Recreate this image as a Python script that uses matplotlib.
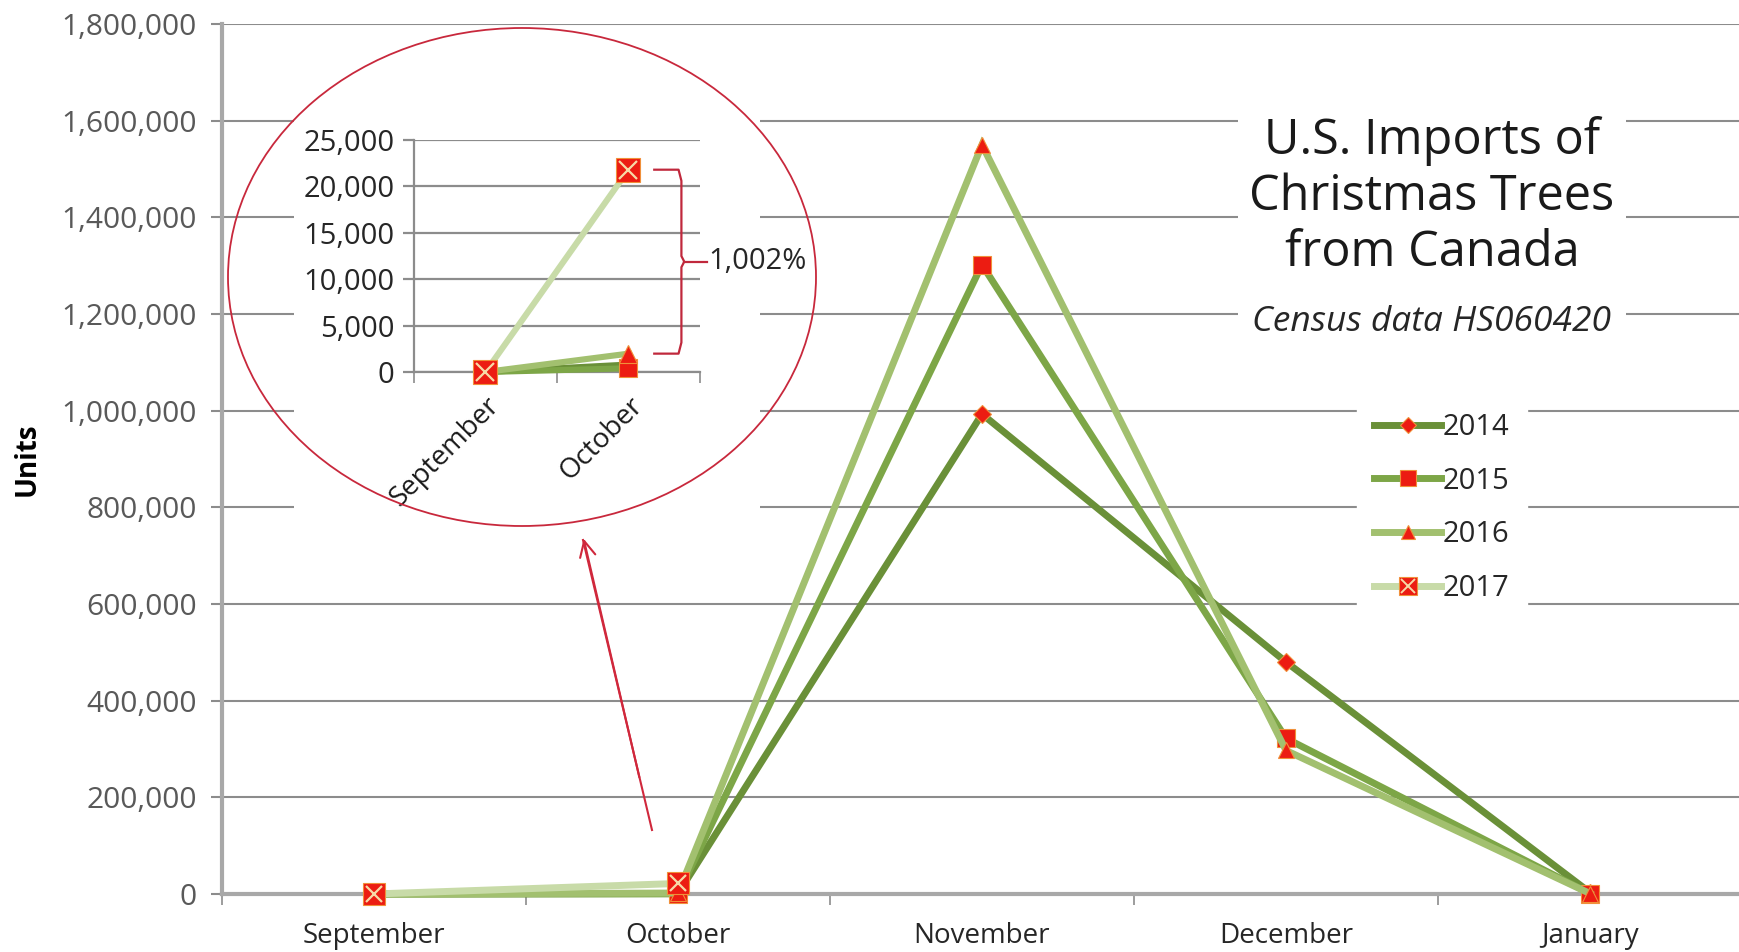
import numpy as np
import matplotlib.pyplot as plt
from matplotlib.patches import Rectangle, Ellipse
from matplotlib.lines import Line2D
from matplotlib.legend_handler import HandlerTuple
from matplotlib.ticker import FuncFormatter, FixedLocator

plt.rcParams['font.family'] = ['Open Sans', 'DejaVu Sans']

months = ['September', 'October', 'November', 'December', 'January']
years = ['2014', '2015', '2016', '2017']
imports_2014 = [0, 800, 993000, 480000, 3000]
imports_2015 = [0, 400, 1302000, 322000, 1000]
imports_2016 = [0, 1979, 1550000, 297000, 1000]
imports_2017 = [0, 21800]
series = [imports_2014, imports_2015, imports_2016, imports_2017]

inset_months = ['September', 'October']
pct_change = '1,002%'

line_colors = ['#6a9038', '#7da647', '#a2c06f', '#c8dba8']
markers = ['D', 's', '^', 's']
msizes = [9, 13, 12, 16]
red = '#ec1c12'
red_edge = '#f0903a'
x_color = '#f7d9a6'
grid_color = '#8c8c8c'
W, H = 1740, 952


def fig_box(x0, y0, x1, y1):
    # pixel box (top-left origin) -> figure fraction rect
    return [x0 / W, (H - y1) / H, (x1 - x0) / W, (y1 - y0) / H]


def style_axes(a, gridlw):
    a.set_axisbelow(True)
    a.yaxis.grid(True, color=grid_color, lw=gridlw)
    for s in ['top', 'right']:
        a.spines[s].set_visible(False)
    a.spines['left'].set_color('#a8a8a8')
    a.spines['bottom'].set_color('#a8a8a8')
    a.tick_params(axis='y', length=8, color=grid_color, width=gridlw)
    a.tick_params(axis='x', which='minor', length=8, color=grid_color, width=1.2, direction='out')
    a.tick_params(axis='x', which='major', length=0)


def plot_series(a, vals_list, lw, scale):
    for i, vals in enumerate(vals_list):
        x = np.arange(len(vals))
        a.plot(x, vals, color=line_colors[i], lw=lw, marker=markers[i],
               ms=msizes[i] * scale, mfc=red, mec=red_edge, mew=0.8,
               solid_joinstyle='miter', zorder=3 + i, clip_on=False)
        if i == 3:
            a.plot(x, vals, ls='none', marker='x', ms=msizes[i] * scale * 0.75,
                   mec=x_color, mew=1.6, zorder=3 + i + 0.5, clip_on=False)


fig = plt.figure(figsize=(W / 100, H / 100), dpi=100)
ax = fig.add_axes(fig_box(222, 24, 1742, 894))
style_axes(ax, 1.5)
ax.spines['left'].set_linewidth(3)
ax.spines['bottom'].set_linewidth(3)
plot_series(ax, series, 5.0, 1.0)
ax.set_xlim(-0.5, 4.5)
ax.set_ylim(0, 1800000)
ax.set_yticks(np.arange(0, 1800001, 200000))
ax.yaxis.set_major_formatter(FuncFormatter(lambda v, p: f'{int(v):,}'))
ax.set_xticks(range(len(months)))
ax.set_xticklabels(months, fontsize=20, color='#262626')
ax.xaxis.set_minor_locator(FixedLocator(np.arange(-0.5, 4.6, 1.0)))
ax.tick_params(axis='y', labelsize=21.5, labelcolor='#595959', pad=10)
ax.tick_params(axis='x', pad=20)
ax.set_ylabel('Units', fontsize=20, fontweight='bold', labelpad=14)

# white panels behind the zoomed view, the title and the legend
for box in [(294, 108, 760, 522), (1238, 96, 1626, 350)]:
    ax.add_patch(Rectangle((box[0] / W, (H - box[3]) / H), (box[2] - box[0]) / W,
                           (box[3] - box[1]) / H, transform=fig.transFigure,
                           facecolor='white', edgecolor='none', zorder=1, clip_on=False))

fig.text(1432 / W, 1 - 197 / H, 'U.S. Imports of\nChristmas Trees\nfrom Canada',
         ha='center', va='center', fontsize=35, linespacing=1.17, color='#1a1a1a')
fig.text(1432 / W, 1 - 322 / H, 'Census data HS060420', ha='center', va='center',
         fontsize=25.5, style='italic', color='#262626')

handles = []
for i, yr in enumerate(years):
    h = Line2D([], [], color=line_colors[i], lw=5, marker=markers[i], ms=msizes[i] * 0.85,
               mfc=red, mec=red_edge, mew=0.8)
    if i == 3:
        hx = Line2D([], [], ls='none', marker='x', ms=msizes[i] * 0.6, mec=x_color, mew=1.4)
        h = (h, hx)
    handles.append(h)
leg = ax.legend(handles, years, loc='center', bbox_to_anchor=(1442 / W, 1 - 508 / H),
                bbox_transform=fig.transFigure, fontsize=21, frameon=True, fancybox=False,
                edgecolor='white', framealpha=1, handlelength=2.3, handletextpad=0.05,
                labelspacing=0.85, borderpad=0.6,
                handler_map={tuple: HandlerTuple(ndivide=1, pad=0)})
leg.set_zorder(10)
for t in leg.get_texts():
    t.set_color('#262626')

# zoomed view of the first two months
ax2 = fig.add_axes(fig_box(414, 140, 700, 372))
ax2.patch.set_alpha(0)
style_axes(ax2, 1.6)
ax2.spines['left'].set_linewidth(1.6)
ax2.spines['left'].set_color(grid_color)
ax2.spines['bottom'].set_linewidth(1.6)
ax2.spines['bottom'].set_color(grid_color)
plot_series(ax2, [s[:2] for s in series], 4.4, 1.05)
ax2.set_xlim(-0.5, 1.5)
ax2.set_ylim(0, 25000)
ax2.set_yticks(np.arange(0, 25001, 5000))
ax2.yaxis.set_major_formatter(FuncFormatter(lambda v, p: f'{int(v):,}'))
ax2.tick_params(axis='y', labelsize=21, labelcolor='#262626', pad=6)
ax2.set_xticks(range(len(inset_months)))
ax2.set_xticklabels(inset_months, fontsize=20, rotation=45, ha='right',
                    rotation_mode='anchor', color='#1a1a1a')
ax2.xaxis.set_minor_locator(FixedLocator([-0.5, 0.5, 1.5]))
ax2.tick_params(axis='x', pad=14)

# bracket showing the October jump
top, bot = imports_2017[1], imports_2016[1]
mid = (top + bot) / 2
bx = [1.18, 1.35, 1.37, 1.37, 1.39, 1.37, 1.37, 1.35, 1.18]
by = [top, top, top - 1200, mid + 600, mid, mid - 600, bot + 1200, bot, bot]
ax2.plot(bx, by, color='#c0283c', lw=1.6, clip_on=False, zorder=8)
ax2.plot([1.39, 1.55], [mid, mid], color='#c0283c', lw=1.6, clip_on=False, zorder=8)
ax2.text(1.56, mid, pct_change, fontsize=21, va='center', ha='left', color='#262626',
         clip_on=False, zorder=9)

fig.add_artist(Ellipse((522 / W, 1 - 277 / H), 588 / W, 498 / H, transform=fig.transFigure,
                       fill=False, edgecolor='#c8283c', lw=1.3, zorder=20))
fig.add_artist(plt.Line2D([652 / W, 583 / W], [1 - 830 / H, 1 - 540 / H],
                          transform=fig.transFigure, color='#d0283c', lw=1.5, zorder=20))
ax.annotate('', xy=(583 / W, 1 - 536 / H), xytext=(640 / W, 1 - 780 / H),
            xycoords='figure fraction', textcoords='figure fraction',
            arrowprops=dict(arrowstyle='->', color='#d0283c', lw=1.5, mutation_scale=28))

fig.savefig('out.png', dpi=100)
